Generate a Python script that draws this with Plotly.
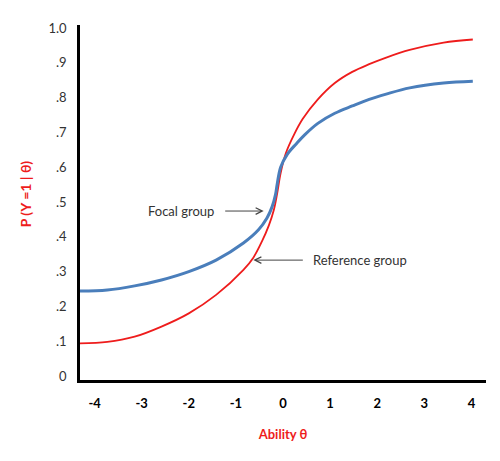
import plotly.graph_objects as go

# values
theta_ref = [-4.31, -3.73, -3.15, -2.58, -2.00, -1.42, -0.84, -0.63, -0.45, -0.30, -0.195,
             -0.123, -0.05, 0.06, 0.24, 0.42, 0.74, 1.10, 1.47, 1.83, 2.19, 2.69, 3.41, 4.03]
p_ref = [0.094, 0.098, 0.113, 0.142, 0.180, 0.233, 0.305, 0.340, 0.386, 0.433, 0.477,
         0.525, 0.583, 0.640, 0.695, 0.739, 0.795, 0.842, 0.874, 0.896, 0.915, 0.937, 0.958, 0.967]

theta_focal = [-4.31, -3.73, -3.15, -2.58, -2.00, -1.42, -0.84, -0.52, -0.34, -0.232, -0.158,
               -0.123, -0.05, 0.09, 0.28, 0.46, 0.74, 1.10, 1.47, 1.83, 2.19, 2.69, 3.41, 4.03]
p_focal = [0.244, 0.247, 0.259, 0.276, 0.300, 0.333, 0.382, 0.420, 0.454, 0.486, 0.522,
           0.552, 0.600, 0.637, 0.667, 0.693, 0.726, 0.755, 0.776, 0.795, 0.810, 0.828, 0.842, 0.847]

x_ticks = [-4, -3, -2, -1, 0, 1, 2, 3, 4]
y_ticks = [0, 0.1, 0.2, 0.3, 0.4, 0.5, 0.6, 0.7, 0.8, 0.9, 1.0]
y_tick_labels = ["0", ".1", ".2", ".3", ".4", ".5", ".6", ".7", ".8", ".9", "1.0"]

RED = "#ee1c1c"
BLUE = "#4a7ebb"

fig = go.Figure()
fig.add_trace(go.Scatter(x=theta_ref, y=p_ref, mode="lines", name="Reference group",
                         line={"color": RED, "width": 1.8, "shape": "spline", "smoothing": 1}))
fig.add_trace(go.Scatter(x=theta_focal, y=p_focal, mode="lines", name="Focal group",
                         line={"color": BLUE, "width": 3, "shape": "spline", "smoothing": 1}))

# arrow labels
fig.add_annotation(x=-0.41, y=0.474, ax=-83, ay=0, text="Focal group",
                   showarrow=True, arrowhead=5, arrowsize=1.3, arrowwidth=1,
                   arrowcolor="#444", startstandoff=10,
                   font={"family": "Lato", "size": 13, "color": "#333"})
fig.add_annotation(x=-0.63, y=0.333, ax=107, ay=0, text="Reference group",
                   showarrow=True, arrowhead=5, arrowsize=1.3, arrowwidth=1,
                   arrowcolor="#444", startstandoff=9,
                   font={"family": "Lato", "size": 13, "color": "#333"})

# y title sits a little above the middle of the axis, so place it by hand
fig.add_annotation(xref="paper", yref="paper", x=-0.158, y=0.524, text="P (Y =1 | θ)",
                   textangle=-90, showarrow=False,
                   font={"family": "Lato", "size": 14, "color": RED, "weight": "bold"})

# the page body adds an 8px offset, so the figure is a bit smaller than the window
fig.update_layout(
	width=492,
	height=453,
	margin={"l": 72, "r": 14, "t": 17, "b": 81},
	plot_bgcolor="white",
	paper_bgcolor="white",
	showlegend=False,
	font={"family": "Lato", "color": "#333"},
	xaxis={
		"range": [-4.31, 4.31],
		"tickvals": x_ticks,
		"ticktext": [str(t) for t in x_ticks],
		"tickfont": {"family": "Lato", "size": 13, "color": "black", "weight": "bold"},
		"showgrid": False,
		"zeroline": False,
		"showline": True,
		"linecolor": "black",
		"linewidth": 2.5,
		"ticks": "",
		"ticklabelstandoff": 10,
		"automargin": False,
		"title": {"text": "Ability θ", "font": {"family": "Lato", "size": 13, "color": RED, "weight": "bold"},
				  "standoff": 20},
	},
	yaxis={
		"range": [-0.0115, 1.0086],
		"tickvals": y_ticks,
		"ticktext": y_tick_labels,
		"tickfont": {"family": "Lato", "size": 13, "color": "#333"},
		"showgrid": False,
		"zeroline": False,
		"showline": True,
		"linecolor": "black",
		"linewidth": 2.5,
		"ticks": "",
		"ticklabelstandoff": 8,
		"automargin": False,
	},
)

fig.write_html("out.html")
